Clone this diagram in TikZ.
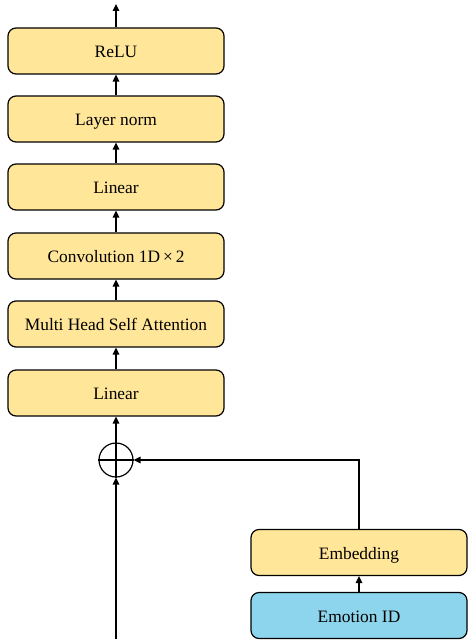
\documentclass[tikz,border=0pt]{standalone}
\usepackage{fontspec}
\setmainfont{Liberation Serif}
\usetikzlibrary{arrows.meta}
\definecolor{boxyellow}{HTML}{FFE699}
\definecolor{boxblue}{HTML}{8DD5EC}
\begin{document}
\begin{tikzpicture}[x=1pt,y=-1pt,
  block/.style={draw=black, line width=1.2pt, rounded corners=8pt, fill=boxyellow,
    minimum width=216pt, minimum height=46pt, inner sep=0pt,
    text height=13.5pt, text depth=0.5pt, font=\fontsize{17.4}{20}\selectfont},
  inblock/.style={block, fill=boxblue},
  flow/.style={line width=1.5pt, -{Triangle[length=7pt,width=6.5pt]}}]
\useasboundingbox (0,0) rectangle (467,642);
% main stack
\node[block] (lin1) at (116,393) {Linear};
\node[block] (mhsa) at (116,324) {Multi Head Self Attention};
\node[block] (conv) at (116,256) {Convolution 1D\,×\,2};
\node[block] (lin2) at (116,187) {Linear};
\node[block] (norm) at (116,119) {Layer norm};
\node[block] (relu) at (116,51) {ReLU};
% emotion branch
\node[block] (emb) at (359,552.5) {Embedding};
\node[inblock] (eid) at (359,615.5) {Emotion ID};
% adder
\node[draw, circle, line width=1.2pt, minimum size=34pt, inner sep=0pt] (add) at (116,460) {};
\draw[line width=1.2pt] (add.north) -- (add.south) (add.west) -- (add.east);
\coordinate (in) at (116,639);
\coordinate (out) at (116,4);
% connectors
\draw[flow] (in) -- (add.south);
\draw[flow] (add.north) -- (lin1.south);
\draw[flow] (lin1) -- (mhsa);
\draw[flow] (mhsa) -- (conv);
\draw[flow] (conv) -- (lin2);
\draw[flow] (lin2) -- (norm);
\draw[flow] (norm) -- (relu);
\draw[flow] (relu) -- (out);
\draw[flow] (eid) -- (emb);
\draw[flow] (emb.north) |- (add.east);
\end{tikzpicture}
\end{document}
